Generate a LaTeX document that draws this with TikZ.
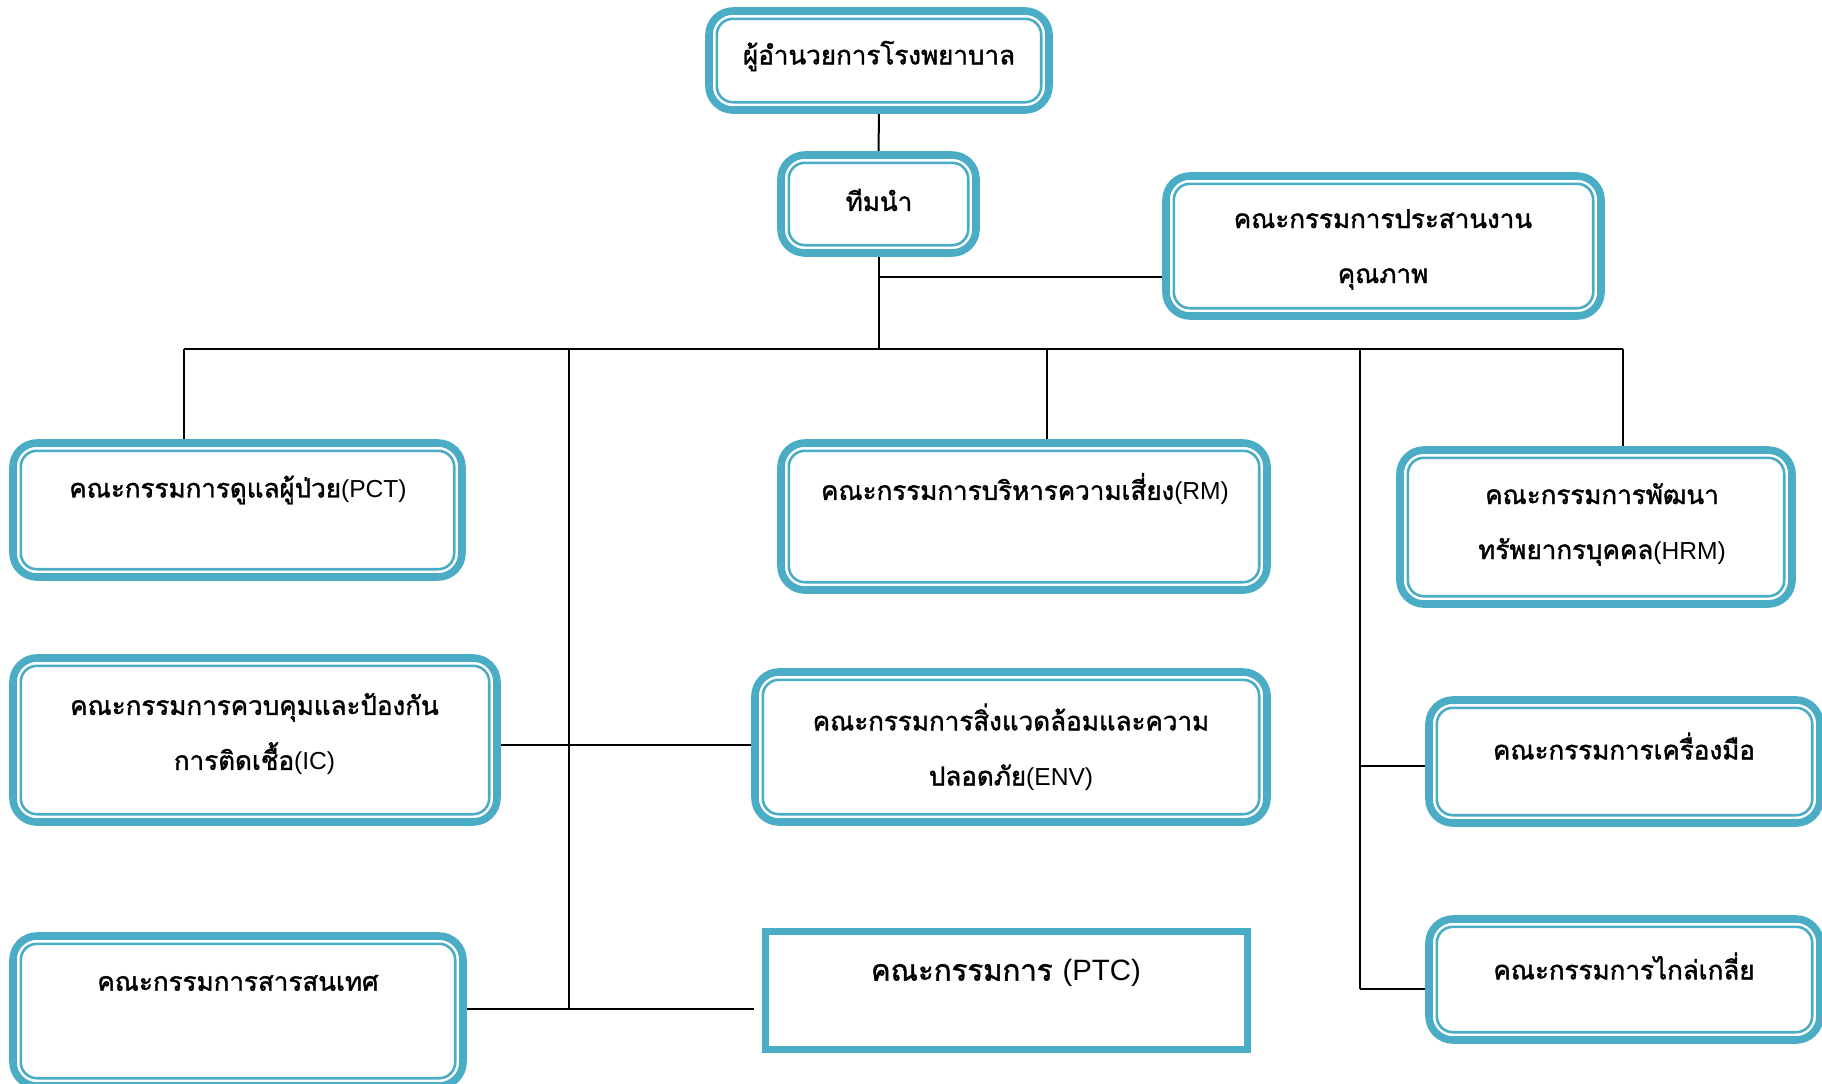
\documentclass[tikz,border=0pt]{standalone}
\usepackage{fontspec}
\setmainfont[Script=Thai, FakeBold=1.5]{Loma}
\newfontfamily\latinfont{Liberation Sans}
\newcommand\lat[1]{{\latinfont\fontsize{12.3}{27.5}\selectfont #1}}
\usetikzlibrary{backgrounds}
\definecolor{qblue}{HTML}{4BACC6}
\tikzset{
  qbox/.style={draw=qblue, line width=3.8pt, rounded corners=12pt, inner sep=0pt, outer sep=0pt},
  pbox/.style={draw=qblue, line width=3.5pt, inner sep=0pt, outer sep=0pt},
  qinner/.style={draw=qblue, line width=1.3pt, rounded corners=8pt},
  qtext/.style={font=\fontsize{13}{27.5}\selectfont, align=center, inner sep=0pt},
  link/.style={black, line width=1pt}
}

\begin{document}
\begin{tikzpicture}[x=0.5pt, y=-0.5pt]
\useasboundingbox (0,0) rectangle (1822,1083);
% boxes
\node[qbox, minimum width=170pt, minimum height=49.5pt] (dir) at (879,60.5) {};
\node[qbox, minimum width=97.5pt, minimum height=49pt] (team) at (878.5,204) {};
\node[qbox, minimum width=217.5pt, minimum height=70pt] (qa) at (1383.5,246) {};
\node[qbox, minimum width=224.5pt, minimum height=67pt] (pct) at (237.5,510) {};
\node[qbox, minimum width=243pt, minimum height=73.5pt] (rm) at (1024,516.5) {};
\node[qbox, minimum width=196pt, minimum height=77pt] (hrm) at (1596,527) {};
\node[qbox, minimum width=242pt, minimum height=82pt] (ic) at (255,740) {};
\node[qbox, minimum width=256pt, minimum height=75pt] (env) at (1011,747) {};
\node[qbox, minimum width=195.5pt, minimum height=61.5pt] (tool) at (1624.5,761.5) {};
\node[qbox, minimum width=195.5pt, minimum height=60.5pt] (med) at (1624.5,979.5) {};
\node[qbox, minimum width=225pt, minimum height=75pt] (info) at (238,1011) {};
\node[pbox, minimum width=241pt, minimum height=59pt] (ptc) at (1006.5,990.5) {};
% inner lines
\foreach \n in {dir,team,qa,pct,rm,hrm,ic,env,tool,med,info}{
  \path[qinner] ([xshift=3.9pt,yshift=3.9pt]\n.south west) rectangle ([xshift=-3.9pt,yshift=-3.9pt]\n.north east);
}
% texts
\node[qtext] (dir-t) at (879,56) {ผู้อำนวยการโรงพยาบาล};
\node[qtext] (team-t) at (879,200) {ทีมนำ};
\node[qtext] (qa-t) at (1383,249.5) {คณะกรรมการประสานงาน\\คุณภาพ};
\node[qtext] (pct-t) at (238,490) {คณะกรรมการดูแลผู้ป่วย\lat{(PCT)}};
\node[qtext] (rm-t) at (1025,489) {คณะกรรมการบริหารความเสี่ยง\lat{(RM)}};
\node[qtext] (hrm-t) at (1602,524.5) {คณะกรรมการพัฒนา\\ทรัพยากรบุคคล\lat{(HRM)}};
\node[qtext] (ic-t) at (254.5,734) {คณะกรรมการควบคุมและป้องกัน\\การติดเชื้อ\lat{(IC)}};
\node[qtext] (env-t) at (1011,747) {คณะกรรมการสิ่งแวดล้อมและความ\\ปลอดภัย\lat{(ENV)}};
\node[qtext] (tool-t) at (1624,746) {คณะกรรมการเครื่องมือ};
\node[qtext] (med-t) at (1624,966) {คณะกรรมการไกล่เกลี่ย};
\node[qtext] (info-t) at (238,983) {คณะกรรมการสารสนเทศ};
\node[qtext, font=\fontsize{14.7}{20}\selectfont] (ptc-t) at (1006,973) {คณะกรรมการ {\latinfont (PTC)}};
% connectors
\coordinate (busL) at (184,349);
\coordinate (busR) at (1623,349);
\coordinate (qaj) at (879,277);
\coordinate (rmj) at (1047,349);
\coordinate (icj) at (569,745);
\coordinate (spL) at (569,1009);
\coordinate (ptcj) at (754,1009);
\coordinate (toolj) at (1360,766);
\coordinate (spR) at (1360,989);
\begin{scope}[on background layer]
\draw[link] (dir.south) -- (team.north);
\draw[link] (team.south) -- (team.south |- busL);
\draw[link] (qaj) -- (qaj -| qa.west);
\draw[link] (busL) -- (busR);
\draw[link] (busL) -- (busL |- pct.north);
\draw[link] (rmj) -- (rmj |- rm.north);
\draw[link] (busR) -- (busR |- hrm.north);
\draw[link] (spL |- busL) -- (spL);
\draw[link] (icj -| ic.east) -- (icj -| env.west);
\draw[link] (spL -| info.east) -- (ptcj);
\draw[link] (spR |- busL) -- (spR);
\draw[link] (toolj) -- (toolj -| tool.west);
\draw[link] (spR) -- (spR -| med.west);
\end{scope}
\end{tikzpicture}
\end{document}
